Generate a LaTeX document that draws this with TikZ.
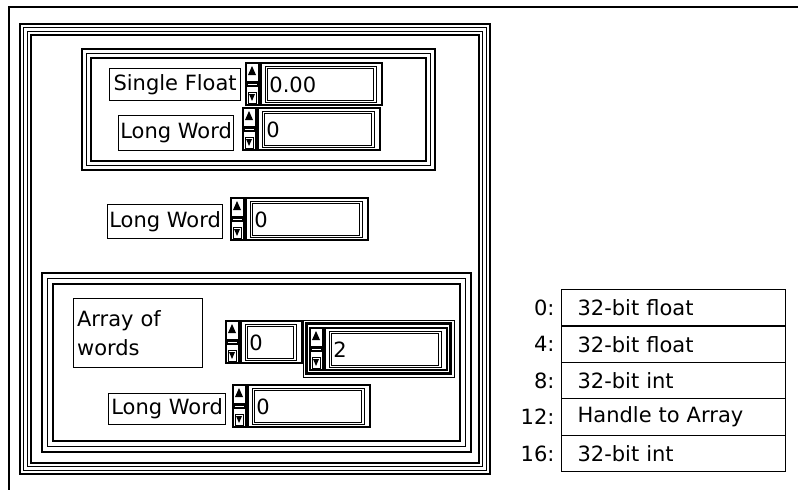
\documentclass[tikz,border=0pt]{standalone}
\usepackage{fontspec}
\setmainfont{DejaVu Sans}
\usetikzlibrary{positioning}

\begin{document}
\begin{tikzpicture}[
      x=1pt, y=-1pt, font=\fontsize{21}{29}\selectfont,
      lbl/.style={draw, line width=1.2pt, inner sep=1pt, anchor=north west},
      field/.style={draw, double, double distance=1.6pt, line width=0.9pt,
      anchor=north west, align=left, inner xsep=3pt, inner ysep=0pt},
      ctl/.style={line width=1.2pt},
      frameline/.style={line width=1.2pt},
    row/.style={draw, line width=1.2pt, anchor=north west, minimum height=36.4pt,
      text width=192pt, inner xsep=16pt, inner ysep=0pt, align=left}]
    \useasboundingbox (0,0) rectangle (798,490);

    % ---- window edge ----
    \draw[line width=2pt] (9,490) -- (9,6.5) -- (798,6.5);

    % ---- cluster frames (outer, top, bottom) ----
    \foreach \d in {0,3.7,7.3,11}
    \draw[frameline] (20+\d,24+\d) rectangle (490-\d,474-\d);
    \foreach \d in {0,4.5,9}
    \draw[frameline] (82+\d,49+\d) rectangle (435-\d,170-\d);
    \foreach \d in {0,5.5,11}
    \draw[frameline] (42+\d,273+\d) rectangle (471-\d,452-\d);

    % ---- labels ----
    \node[lbl, minimum width=131pt, minimum height=32pt] (sfLbl) at (109,68) {Single Float};
    \node[lbl, minimum width=115pt, minimum height=35pt] (lwLblA) at (118,115) {Long Word};
    \node[lbl, minimum width=115pt, minimum height=34pt] (lwLblB) at (107,204) {Long Word};
    \node[lbl, minimum width=117pt, minimum height=31pt] (lwLblC) at (108,393) {Long Word};
    \node[lbl, minimum width=129pt, minimum height=69pt, text width=122pt, align=left]
    (arrLbl) at (73,298) {Array of\\words};

    % ---- array element frame ----
    \draw[line width=0.8pt] (303,320) rectangle (454,377);
    \draw[line width=3.5pt] (306.5,323.5) rectangle (450.5,373.5);

    % ---- digital controls: spinner + value field ----
    \foreach \xa/\ya/\w/\val/\nm in {246/63/136/0.00/sfVal, 243/108/137/0/lwValA,
      231/198/137/0/lwValB, 233/385/137/0/lwValC, 226/321/76/0/idxVal, 310/328/137/2/elemVal}{
      \draw[ctl] (\xa,\ya) rectangle ++(\w,42);
      \draw[line width=0.8pt] (\xa,\ya) rectangle ++(12,42);
      \fill (\xa+2,\ya+12) -- (\xa+10,\ya+12) -- (\xa+6,\ya+3) -- cycle;  % up
      \fill (\xa,\ya+18) rectangle ++(12,6);
      \draw[white, line width=1pt] (\xa+1.5,\ya+21) -- ++(9,0);
      \draw[line width=0.8pt] (\xa+2,\ya+29) rectangle ++(8,11);
      \fill (\xa+3,\ya+31) -- (\xa+9,\ya+31) -- (\xa+6,\ya+38) -- cycle;  % down
      \fill (\xa+12,\ya) rectangle ++(4,42);
      \pgfmathsetmacro\tw{\w-33.4}
      \node[field, text width=\tw pt, minimum height=34pt] (\nm) at (\xa+20,\ya+4) {\val};
    }

    % ---- memory layout table ----
    \foreach \off/\txt [count=\i] in {0/32-bit float, 4/32-bit float, 8/32-bit int,
      12/Handle to Array, 16/32-bit int}{
      \node[row] (row\i) at (561,{289+(\i-1)*36.4}) {\txt};
      \node[left=3pt of row\i] (off\i) {\off:};
    }
  \end{tikzpicture}
\end{document}
